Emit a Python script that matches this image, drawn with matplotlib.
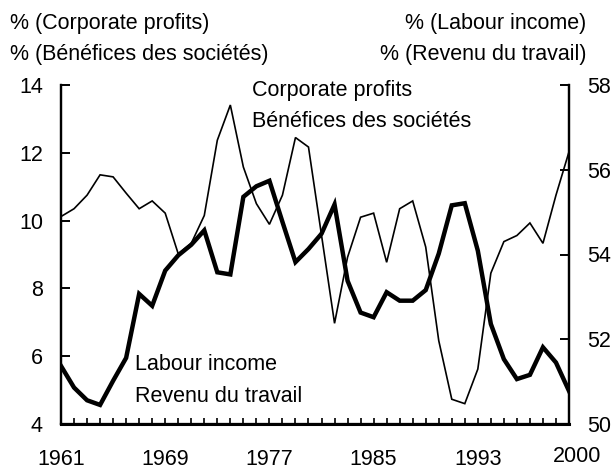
import matplotlib
matplotlib.use("Agg")
import matplotlib.pyplot as plt
import matplotlib.transforms as mtransforms

plt.rcParams['font.family'] = ['Liberation Sans', 'DejaVu Sans']
plt.rcParams['font.size'] = 15.5

# data
years = list(range(1961, 2001))
profits = [10.12, 10.35, 10.75, 11.35, 11.29, 10.81, 10.35, 10.58, 10.22, 9.02,
           9.33, 10.15, 12.37, 13.41, 11.58, 10.50, 9.89, 10.75, 12.45, 12.17,
           9.57, 6.97, 8.92, 10.10, 10.22, 8.77, 10.35, 10.58, 9.22, 6.46,
           4.73, 4.60, 5.62, 8.45, 9.38, 9.56, 9.93, 9.33, 10.75, 12.03]
labour = [51.37, 50.86, 50.56, 50.45, 51.02, 51.56, 53.07, 52.79, 53.62, 53.98,
          54.23, 54.57, 53.58, 53.53, 55.36, 55.61, 55.74, 54.77, 53.82, 54.13,
          54.49, 55.18, 53.38, 52.63, 52.52, 53.11, 52.91, 52.91, 53.16, 54.02,
          55.16, 55.21, 54.09, 52.36, 51.53, 51.06, 51.16, 51.81, 51.45, 50.78]
labelled_years = [1961, 1969, 1977, 1985, 1993, 2000]
left_ticks = [4, 6, 8, 10, 12, 14]
right_ticks = [50, 52, 54, 56, 58]

W, H = 615, 472
fig = plt.figure(figsize=(W / 100, H / 100), dpi=100)

def px(x, y):
    # pixel position (from top-left) -> figure fraction
    return x / W, 1 - y / H

l, t = px(61, 85)
r, b = px(569, 424)
ax = fig.add_axes([l, b, r - l, t - b])
ax2 = ax.twinx()

ax.plot(years, profits, color='black', lw=1.2, solid_joinstyle='miter')
ax2.plot(years, labour, color='black', lw=3.2, solid_joinstyle='miter')

ax.set_xlim(1961, 2000)
ax.set_ylim(4, 14)
ax2.set_ylim(50, 58)
ax.set_yticks(left_ticks)
ax2.set_yticks(right_ticks)
ax.set_xticks(years)
ax.set_xticklabels([str(y) if y in labelled_years else '' for y in years])

for a in (ax, ax2):
    a.spines['top'].set_visible(False)
    for s in ('left', 'right', 'bottom'):
        a.spines[s].set_linewidth(1.6)
ax.spines['bottom'].set_linewidth(2.2)

ax.tick_params(axis='y', direction='in', length=6.5, width=1.4, pad=13)
ax2.tick_params(axis='y', direction='in', length=6.5, width=1.4, pad=13)
ax.tick_params(axis='x', direction='in', length=4.5, width=1.2, pad=18)

# the 2000 label sits a bit higher and to the right in the reference
lab2000 = ax.get_xticklabels()[-1]
off = mtransforms.ScaledTranslation(8 / 100, 3 / 100, fig.dpi_scale_trans)
lab2000.set_transform(lab2000.get_transform() + off)

fig.text(*px(10, 28.5), '% (Corporate profits)', ha='left', va='baseline')
fig.text(*px(10, 60.5), '% (Bénéfices des sociétés)', ha='left', va='baseline')
fig.text(*px(586, 28.5), '% (Labour income)', ha='right', va='baseline')
fig.text(*px(586, 60.5), '% (Revenu du travail)', ha='right', va='baseline')

fig.text(*px(252, 96), 'Corporate profits', ha='left', va='baseline')
fig.text(*px(252, 127), 'Bénéfices des sociétés', ha='left', va='baseline')
fig.text(*px(135, 370), 'Labour income', ha='left', va='baseline')
fig.text(*px(135, 401.5), 'Revenu du travail', ha='left', va='baseline')

fig.savefig('out.png', dpi=100)
